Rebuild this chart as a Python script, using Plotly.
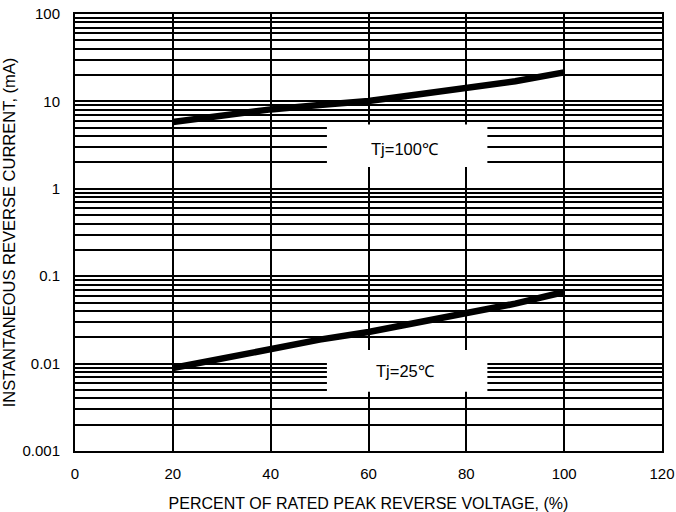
import math
import plotly.graph_objects as go

# ---- data ----
voltage_pct = [20, 30, 40, 50, 60, 70, 80, 90, 100]
current_tj100 = [5.8, 6.9, 8.1, 9.1, 10.1, 12.0, 14.2, 17.0, 21.5]
current_tj25 = [0.0089, 0.0115, 0.0148, 0.0188, 0.023, 0.0294, 0.0373, 0.0485, 0.066]

x_tick_vals = [0, 20, 40, 60, 80, 100, 120]
y_decades = [0.001, 0.01, 0.1, 1, 10, 100]
y_decade_labels = ["0.001", "0.01", "0.1", "1", "10", "100"]
label_tj100 = "Tj=100℃"
label_tj25 = "Tj=25℃"

# label boxes (data coordinates: x percent, y current)
box_tj100 = dict(x0=51.5, x1=84.3, y0=1.78, y1=5.45)
box_tj25 = dict(x0=51.5, x1=84.3, y0=0.00475, y1=0.01435)

# ---- grid positions (1..9 per decade) ----
y_grid_vals, y_grid_text = [], []
for d, lab in zip(y_decades[:-1], y_decade_labels[:-1]):
    for k in range(1, 10):
        y_grid_vals.append(k * d)
        y_grid_text.append(lab if k == 1 else "")
y_grid_vals.append(y_decades[-1])
y_grid_text.append(y_decade_labels[-1])

FONT = "Liberation Sans, Arial, sans-serif"

fig = go.Figure()
fig.add_trace(go.Scatter(x=voltage_pct, y=current_tj100, mode="lines",
                         line=dict(color="black", width=6.5), showlegend=False,
                         hoverinfo="skip"))
fig.add_trace(go.Scatter(x=voltage_pct, y=current_tj25, mode="lines",
                         line=dict(color="black", width=6.5), showlegend=False,
                         hoverinfo="skip"))

for b in (box_tj100, box_tj25):
    fig.add_shape(type="rect", xref="x", yref="y", layer="between",
                  x0=b["x0"], x1=b["x1"], y0=b["y0"], y1=b["y1"],
                  fillcolor="white", line=dict(width=0))

fig.add_annotation(x=67.5, y=math.log10(2.85), text=label_tj100, showarrow=False,
                   font=dict(family=FONT, size=16.5, color="black"))
fig.add_annotation(x=67.5, y=math.log10(0.0083), text=label_tj25, showarrow=False,
                   font=dict(family=FONT, size=16.5, color="black"))

fig.update_layout(
    width=676, height=512,
    margin=dict(l=75, r=14, t=14, b=61, autoexpand=False),
    paper_bgcolor="white", plot_bgcolor="white",
    font=dict(family=FONT, size=15, color="black"),
    showlegend=False,
)
fig.update_xaxes(
    range=[0, 120], tickvals=x_tick_vals, ticktext=[str(v) for v in x_tick_vals],
    showgrid=True, gridcolor="black", gridwidth=2, zeroline=False,
    showline=True, linecolor="black", linewidth=2, mirror=True,
    ticks="", ticklabelstandoff=8, automargin=False,
    title=dict(text="PERCENT OF RATED PEAK REVERSE VOLTAGE, (%)",
               font=dict(size=16), standoff=20),
)
fig.update_yaxes(
    type="log", range=[-3, 2], tickvals=y_grid_vals, ticktext=y_grid_text,
    showgrid=True, gridcolor="black", gridwidth=2, zeroline=False,
    showline=True, linecolor="black", linewidth=2, mirror=True,
    ticks="", ticklabelstandoff=10, automargin=False,
    title=dict(text="INSTANTANEOUS REVERSE CURRENT, (mA)",
               font=dict(size=16.5), standoff=5),
)

fig.write_html(
    "out.html",
    config={"displayModeBar": False},
    post_script="document.body.style.margin='0';document.body.style.overflow='hidden';",
)
